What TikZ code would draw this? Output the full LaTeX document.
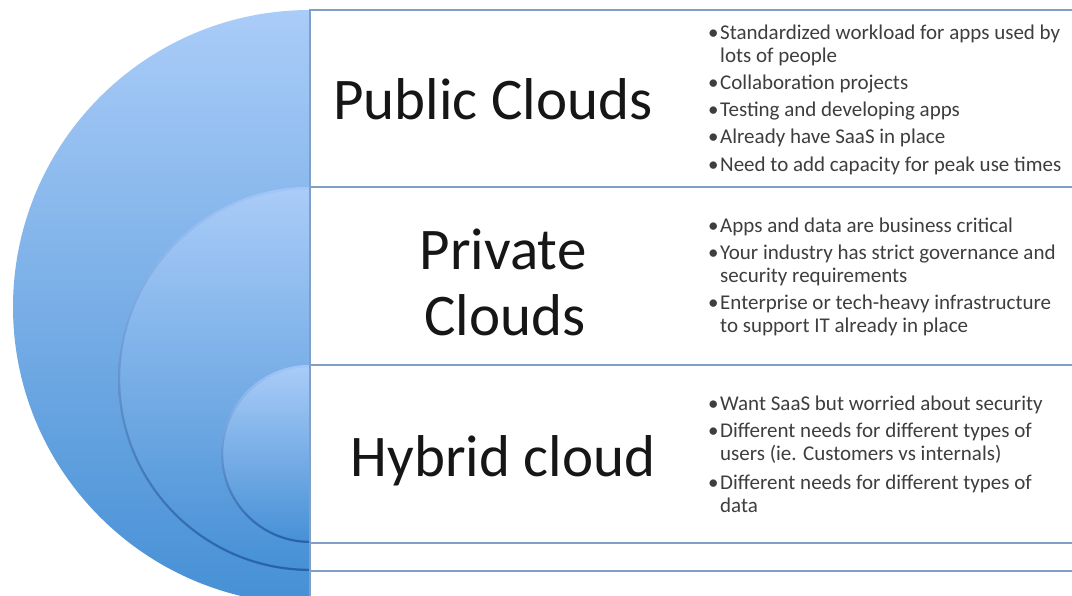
\documentclass[tikz,border=0pt]{standalone}
\usepackage{fontspec}
\setmainfont{Carlito}
\definecolor{circtop}{RGB}{170,204,248}
\definecolor{circbot}{RGB}{70,144,213}
\definecolor{rimtop}{RGB}{162,198,246}
\definecolor{rimbot}{RGB}{38,98,168}
\definecolor{boxline}{RGB}{128,158,198}
\definecolor{titletext}{RGB}{22,22,22}
\definecolor{bultext}{RGB}{62,62,62}
\tikzset{
  levelbox/.style={draw=boxline, line width=1.8pt, fill=white},
  disc/.style={top color=circtop, bottom color=circbot},
  rim/.style={even odd rule, top color=rimtop, bottom color=rimbot},
  title/.style={anchor=base, inner sep=0pt, text=titletext, font=\fontsize{59}{66}\selectfont},
  bul/.style={anchor=base west, inner sep=0pt, align=left, text=bultext, font=\fontsize{21}{23}\selectfont}
}
\newcommand{\bl}{\llap{\textbullet\hspace{1.5pt}}}
\begin{document}
\begin{tikzpicture}[x=1pt,y=-1pt]
\useasboundingbox (0,0) rectangle (1072,596);
% nested half discs
\begin{scope}
  \clip (0,0) rectangle (310,596);
  \shade[disc] (310,307) circle (297);
  \shade[disc] (310,379) circle (192);
  \shade[rim] (310,379) circle (192) (310,379) circle (189.8);
  \shade[disc] (310,454) circle (89);
  \shade[rim] (310,454) circle (89) (310,454) circle (86.8);
\end{scope}
% nested text panels
\draw[levelbox] (310,10) rectangle (1095,604);
\draw[levelbox] (310,187) rectangle (1095,571);
\draw[levelbox] (310,365) rectangle (1095,543);
% titles
\node[title] (pub) at (493,120) {Public Clouds};
\node[title] (privA) at (503,270) {Private};
\node[title] (privB) at (505,336) {Clouds};
\node[title] (hyb) at (503,476) {Hybrid cloud};
% public bullets (base anchor = last line)
\node[bul] (p1) at (720,63) {\bl Standardized workload for apps used by\\lots of people};
\node[bul] (p2) at (720,90) {\bl Collaboration projects};
\node[bul] (p3) at (720,117) {\bl Testing and developing apps};
\node[bul] (p4) at (720,144) {\bl Already have SaaS in place};
\node[bul] (p5) at (720,172) {\bl Need to add capacity for peak use times};
% private bullets
\node[bul] (r1) at (720,233) {\bl Apps and data are business critical};
\node[bul] (r2) at (720,283) {\bl Your industry has strict governance and\\security requirements};
\node[bul] (r3) at (720,333) {\bl Enterprise or tech-heavy infrastructure\\to support IT already in place};
% hybrid bullets
\node[bul] (h1) at (720,410) {\bl Want SaaS but worried about security};
\node[bul] (h2) at (720,460) {\bl Different needs for different types of\\users (ie. Customers vs internals)};
\node[bul] (h3) at (720,512) {\bl Different needs for different types of\\data};
\end{tikzpicture}
\end{document}
